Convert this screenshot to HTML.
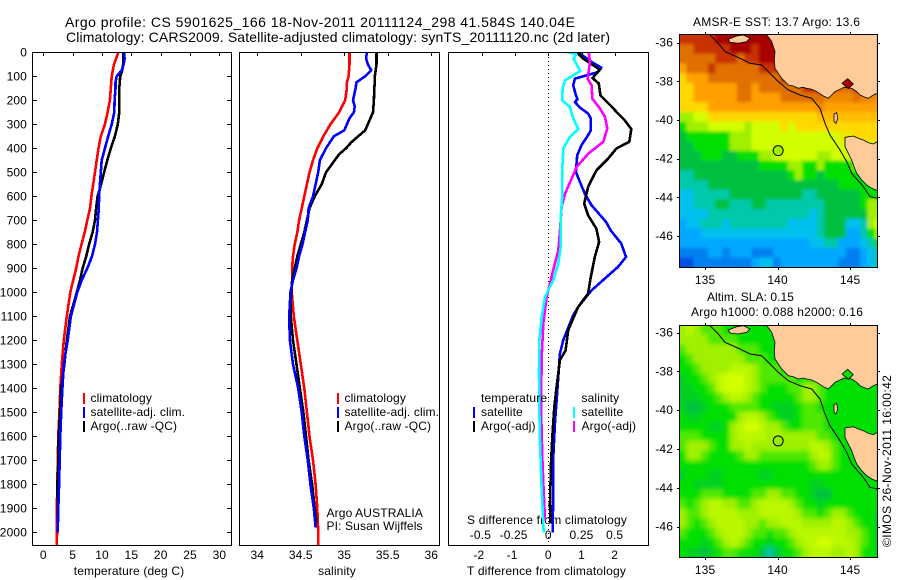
<!DOCTYPE html>
<html>
<head>
<meta charset="utf-8">
<title>Argo profile</title>
<style>
html,body{margin:0;padding:0;background:#fff;}
svg{display:block;}
text{font-family:"Liberation Sans",sans-serif;font-size:12px;fill:#000;letter-spacing:0.13px;}
.t14{font-size:14px;letter-spacing:0;}
</style>
</head>
<body>
<svg id="chart" xmlns="http://www.w3.org/2000/svg" width="900" height="580" viewBox="0 0 900 580">
  <defs>
    <clipPath id="clip-p1"><rect x="32" y="52" width="200" height="494"/></clipPath>
    <clipPath id="clip-p2"><rect x="239" y="52" width="201" height="494"/></clipPath>
    <clipPath id="clip-p3"><rect x="448" y="52" width="201" height="494"/></clipPath>
    <clipPath id="clip-m1"><rect x="679" y="34" width="199" height="234"/></clipPath>
    <clipPath id="clip-m2"><rect x="679" y="325" width="199" height="233"/></clipPath>
    <filter id="soft-sst" filterUnits="userSpaceOnUse" x="650" y="10" width="250" height="280"><feGaussianBlur stdDeviation="1.5"/></filter>
    <filter id="soft-sla" filterUnits="userSpaceOnUse" x="650" y="300" width="250" height="280"><feGaussianBlur stdDeviation="2.5"/></filter>
  </defs>
  <rect x="0" y="0" width="900" height="580" fill="#fff"/>
  <text class="t14" x="65" y="27" textLength="510" lengthAdjust="spacing">Argo profile: CS 5901625_166 18-Nov-2011 20111124_298 41.584S 140.04E</text>
  <text class="t14" x="66" y="42" textLength="544" lengthAdjust="spacing">Climatology: CARS2009. Satellite-adjusted climatology: synTS_20111120.nc (2d later)</text>

  <text x="129" y="575" text-anchor="middle">temperature (deg C)</text>
  <text x="337" y="575" text-anchor="middle">salinity</text>
  <text x="467" y="575" textLength="159" lengthAdjust="spacing">T difference from climatology</text>
  <text x="467" y="524" textLength="160" lengthAdjust="spacing">S difference from climatology</text>

  <text x="693" y="26" textLength="167" lengthAdjust="spacing">AMSR-E SST: 13.7 Argo: 13.6</text>
  <text x="707" y="301" textLength="87" lengthAdjust="spacing">Altim. SLA: 0.15</text>
  <text x="691" y="316" textLength="172" lengthAdjust="spacing">Argo h1000: 0.088 h2000: 0.16</text>
  <text transform="translate(891,547) rotate(-90)" textLength="172" lengthAdjust="spacing">©IMOS 26-Nov-2011 16:00:42</text>

  <g id="maps"></g>
  <g id="panels"></g>

  <g>
    <line x1="84" x2="84" y1="393" y2="404" stroke="#f00" stroke-width="2" shape-rendering="crispEdges"/>
    <line x1="84" x2="84" y1="407" y2="418" stroke="#00f" stroke-width="2" shape-rendering="crispEdges"/>
    <line x1="84" x2="84" y1="421" y2="432" stroke="#000" stroke-width="2" shape-rendering="crispEdges"/>
    <text x="90.5" y="402">climatology</text>
    <text x="90.5" y="416">satellite-adj. clim.</text>
    <text x="90.5" y="430">Argo(..raw -QC)</text>
  </g>
  <g>
    <line x1="338" x2="338" y1="393" y2="404" stroke="#f00" stroke-width="2" shape-rendering="crispEdges"/>
    <line x1="338" x2="338" y1="407" y2="418" stroke="#00f" stroke-width="2" shape-rendering="crispEdges"/>
    <line x1="338" x2="338" y1="421" y2="432" stroke="#000" stroke-width="2" shape-rendering="crispEdges"/>
    <text x="344.5" y="402">climatology</text>
    <text x="344.5" y="416">satellite-adj. clim.</text>
    <text x="344.5" y="430">Argo(..raw -QC)</text>
    <text x="326.5" y="517">Argo AUSTRALIA</text>
    <text x="326.5" y="530">PI: Susan Wijffels</text>
  </g>
  <g>
    <text x="481" y="402">temperature</text>
    <text x="581.5" y="402">salinity</text>
    <line x1="474" x2="474" y1="407" y2="418" stroke="#00f" stroke-width="2" shape-rendering="crispEdges"/>
    <line x1="474" x2="474" y1="421" y2="432" stroke="#000" stroke-width="2" shape-rendering="crispEdges"/>
    <line x1="574" x2="574" y1="407" y2="418" stroke="#0ff" stroke-width="2" shape-rendering="crispEdges"/>
    <line x1="574" x2="574" y1="421" y2="432" stroke="#f0f" stroke-width="2" shape-rendering="crispEdges"/>
    <text x="481" y="416">satellite</text>
    <text x="481" y="430">Argo(-adj)</text>
    <text x="581.5" y="416">satellite</text>
    <text x="581.5" y="430">Argo(-adj)</text>
  </g>
</svg>
<script>
// ---------- chart data ----------
const depthTicks = [0,100,200,300,400,500,600,700,800,900,1000,1100,1200,1300,1400,1500,1600,1700,1800,1900,2000];
const tempTicks = [0,5,10,15,20,25,30];
const salTicks = [34,34.5,35,35.5,36];
const salTickLabels = ['34','34.5','35','35.5','36'];
const tDiffTicks = [-2,-1,0,1,2];
const sDiffTicks = [-0.5,-0.25,0,0.25,0.5];
const lonTicks = [135,140,145];
const latTicks = [-36,-38,-40,-42,-44,-46];

const tempClimDepth = [0,50,100,150,200,250,300,350,400,450,500,550,600,650,700,750,800,850,900,950,1000,1100,1200,1300,1400,1500,1600,1700,1800,1900,2000,2055];
const tempClim = [12.8,12.05,11.65,11.5,11.35,10.95,10.5,9.8,9.4,9.1,8.8,8.5,8.2,7.95,7.5,7.05,6.5,6.0,5.6,5.1,4.6,4.0,3.5,3.15,2.9,2.75,2.55,2.45,2.4,2.3,2.33,2.3];
const tempSatDepth = [0,25,50,75,100,125,150,200,250,300,350,400,450,500,550,600,650,700,750,800,850,900,950,1000,1050,1100,1200,1300,1400,1500,1600,1700,1800,1900,2000];
const tempSat = [13.75,13.85,13.7,13.35,12.5,12.3,12.3,12.15,12.1,11.65,11.05,10.5,9.95,9.8,9.65,9.5,9.45,9.3,9.15,8.8,8.3,7.5,6.55,5.8,5.25,4.7,4.15,3.5,3.25,3.05,2.9,2.8,2.7,2.55,2.45];
const tempArgoDepth = [0,50,75,100,150,200,250,300,350,400,450,500,550,600,650,700,750,800,850,900,950,1000,1100,1200,1300,1400,1500,1600,1700,1800,1900,2000];
const tempArgo = [13.6,13.6,13.45,13.1,12.95,12.95,12.95,12.7,12.2,11.5,10.9,10.35,9.85,9.25,9,8.8,8.4,7.8,7.3,6.7,6.25,5.7,4.55,4,3.6,3.05,2.85,2.6,2.55,2.4,2.45,2.45];

const salClimDepth = [0,50,100,125,150,200,250,300,350,400,450,500,550,600,650,700,750,800,850,900,950,1000,1100,1200,1300,1400,1500,1600,1700,1800,1900,2000,2055];
const salClim = [35.06,35.06,35.05,35.03,35.03,35.01,34.94,34.84,34.76,34.69,34.64,34.6,34.57,34.54,34.51,34.48,34.46,34.43,34.41,34.4,34.4,34.395,34.42,34.46,34.5,34.54,34.57,34.6,34.64,34.67,34.69,34.7,34.7];
const salSatDepth = [0,25,50,75,100,125,150,200,225,250,275,300,325,350,400,450,500,550,600,650,700,750,800,850,900,950,1000,1050,1100,1200,1300,1400,1500,1600,1700,1800,1900,1980];
const salSat = [35.26,35.25,35.27,35.31,35.24,35.14,35.13,35.1,35.12,35.11,35.06,35.03,35.0,34.88,34.79,34.72,34.7,34.67,34.64,34.59,34.58,34.55,34.52,34.48,34.45,34.41,34.38,34.375,34.365,34.375,34.41,34.47,34.51,34.54,34.58,34.61,34.65,34.67];
const salArgoDepth = [0,50,100,125,150,200,250,275,300,325,350,375,400,425,475,500,550,600,650,700,750,800,850,900,950,1000,1050,1100,1200,1300,1400,1500,1600,1700,1800,1900,1960];
const salArgo = [35.37,35.37,35.35,35.35,35.345,35.34,35.33,35.3,35.27,35.24,35.16,35.08,35.02,34.94,34.84,34.79,34.74,34.66,34.6,34.57,34.54,34.5,34.46,34.43,34.4,34.39,34.385,34.385,34.41,34.45,34.49,34.53,34.56,34.59,34.63,34.66,34.68];

const dTSatDepth = [0,40,64,82,110,137,179,196,207,230,255,276,325,346,387,429,499,589,637,707,742,797,853,894,992,1061,1096,1200,1256,1353,1450,1547,1686,1825,2001];
const dTSat = [0.9,1.3,1.6,1.5,0.8,0.75,0.83,0.88,0.8,0.95,1.2,1.28,1.28,1.2,1.0,0.87,0.83,1.1,1.3,1.74,1.88,2.2,2.34,2.1,1.3,0.9,0.75,0.45,0.35,0.3,0.25,0.2,0.15,0.15,0.13];
const dTArgoDepth = [0,26,47,72,107,130,179,225,255,283,320,373,401,443,492,561,630,679,735,790,853,943,1005,1061,1158,1242,1283,1394,1478,1603,1714,1881,1964];
const dTArgo = [0.87,1.05,1.28,1.55,1.33,1.52,1.57,1.9,2.1,2.3,2.5,2.44,2.05,1.8,1.45,1.2,1.08,1.2,1.45,1.53,1.4,1.27,1.2,0.9,0.6,0.52,0.35,0.25,0.18,0.12,0.08,0.05,0.06];
const dSSatDepth = [0,8,26,78,117,151,200,228,276,320,353,401,492,603,686,811,881,950,1005,1020,1103,1200,1339,1478,1617,1825,2001];
const dSSat = [0.15,0.21,0.19,0.24,0.125,0.108,0.105,0.163,0.188,0.226,0.163,0.113,0.105,0.105,0.093,0.093,0.075,0.038,-0.013,-0.025,-0.05,-0.068,-0.07,-0.068,-0.063,-0.05,-0.035];
const dSArgoDepth = [3,40,110,137,193,235,269,318,373,422,478,526,589,644,742,825,922,992,1020,1131,1269,1478,1686,1853,1950];
const dSArgo = [0.306,0.314,0.296,0.326,0.331,0.389,0.427,0.444,0.414,0.301,0.213,0.176,0.126,0.1,0.088,0.075,0.03,0,-0.013,-0.038,-0.05,-0.055,-0.045,-0.033,-0.025];

// SST map: colour-level per 0.5 degree cell, north to south, west to east
const sstCells = [
[12,12,12,12,12,13,13,13,13,13,13,13,13,13,13,13,13,13,13,13,13,13,13,13,13,13,13,13],
[11,11,12,12,12,12,12,13,13,13,12,13,13,13,13,13,13,13,13,13,13,13,13,13,13,13,13,13],
[11,11,11,11,11,12,12,12,11,12,12,13,13,13,13,13,13,13,13,13,13,13,13,13,13,13,13,13],
[10,11,11,11,12,11,11,11,11,11,11,12,12,12,13,13,13,13,13,13,13,13,13,13,13,13,13,13],
[9,10,10,10,11,11,11,11,11,11,11,11,11,11,12,12,12,13,13,13,12,12,12,12,12,12,12,12],
[9,9,10,10,10,10,10,10,11,11,10,11,11,11,11,11,11,12,12,12,11,11,11,11,12,11,11,11],
[9,9,10,10,10,10,10,10,11,11,10,10,10,10,11,11,11,11,11,11,10.5,10.5,10.5,10.5,11,10.5,10.5,10.5],
[9,9,9,9,10,10,10,10,10,10,10,10,10,10,10,10,10,10,10,10.5,10,10,10,10,10,10,10,10],
[7,7,8,8,9,9,9,9,9,9,9,9,9,9,9,9,9,9,9,9.5,9.5,9.5,9.5,9.5,9.5,9.5,9.5,9.5],
[6,7,7,7,8,8,8,8,8,7,8,8,8,8,9,8,9,9,9,9,9,9,9,9,9,9,9,9],
[5,6,6,6,6,6,6,7,7,7,8,8,8,8,8,8,8,8,8,8,8,8,8.5,8.5,9,9,9,9],
[5,5,6,6,6,6,6,7,7,7,8,8,8,8,8,8,8,8,8,8,8,8,8,8,8,8,8,8],
[5,5,5,6,6,6,5,5,6,6,6,7,7,8,8,8,8,8,8,7,7,8,8,8,8,8,8,8],
[5,5,5,5,5,5,5,5,5,5,5,6,6,6,6,7,7,6,6,7,6,6,6,6,7,7,7,7],
[4,4,5,5,5,5,5,5,5,5,5,5,5,5,5,6,7,6,6,5,6,6,6,6,6,6,6,6],
[4,4,4,4,5,5,5,5,5,5,5,5,5,5,5,5,5,5,5,5,5,5,6,6,6,6,6,6],
[3,3,4,4,4,4,4,5,5,5,5,5,5,5,5,5,5,4,4,5,5,5,5,5,5,6,6,6],
[3,3,4,4,4,5,5,4,4,4,5,5,4,4,4,4,4,4,4,4,5,5,5,5,5,6,7,7],
[3,3,3,3,4,4,4,4,4,4,4,4,4,4,4,4,4,4,3,4,5,5,5,5,5,5,7,7],
[2,3,3,4,4,4,3,4,4,4,4,4,4,4,4,3,3,3,3,4,5,5,5,3,3,4,7,8],
[2,2,2,3,3,3,3,3,3,3,3,3,3,3,3,3,3,3,3,4,5,5,5,2,2,4,6,7],
[2,2,2,2,2,2,2,2,2,2,2,2,2,2,2,2,2,2,3,3,4,4,2,2,2,3,4,6],
[1,1,1,1,2,2,1,2,2,2,1,1,1,2,2,2,2,2,2,2,2,2,2,1,1,2,3,4],
[0,0,1,1,1,1,1,1,1,1,2,3,3,1,2,2,2,2,2,2,2,2,1,1,1,2,3,4]
];
// SLA map: colour-level per 0.5 degree cell, north to south, west to east
const slaCells = [
[7,7.5,7,6.5,6.5,6.5,6,6,6,6,6,6,6,6,5.5,6,6,6,6,6,6,6,6,6,6,6,6,6],
[7,7,7,7,6.5,6.5,6.5,6.5,6,6,6,6,6,6,6,6,6,6,6,6,6,6,6,6,6,6,6,6],
[6.5,7,7,7,7,7,7,7,6.5,6.5,6.5,6,6,6,6,6,6,6,6,6,6,6,6,6,6,6,6,6],
[6,6.5,7,7,7,7,7,7,7,6.5,6.5,6.5,6,6,6,6,6,6,6,6,6,6,6,6,6,6,6,6],
[6,6,6.5,7,7,7,7,7.5,7.5,7.5,7,6.5,6.5,6.5,6,6,6,6,6,6,6,6,6,6,6,6,6,6],
[5.5,6,6,6.5,7,7.5,8,8,8,7.5,7,6.5,6.5,6.5,6.5,6.5,6,6,6,6,6,6,6,6,6,6,6,6],
[5.5,5.5,6,6,6.5,7.5,8,8,8,7.5,7,6.5,6,6,6,6.5,6.5,7,7,6.5,6,6,6,6,6,6,6,6],
[5.5,5.5,5.5,6,6,6.5,7,7.5,7.5,7,6.5,6,6,6,6,6,6.5,7,7,6.5,6,6,6,6,6,6,6,6],
[5.5,5,5,5.5,6,6,6,6.5,6.5,6.5,6.5,6,6,5.5,5.5,5.5,6,6.5,6.5,6,6,6,6,6,6,6,6,6],
[6,5.5,5.5,6,6,6,6,6,7,7.5,7.5,7,6.5,6,5.5,5.5,6,6.5,6.5,6.5,6,6,6,6,6,6,6,6],
[6,6,6,6,5.5,5.5,6,7,7.5,8,8,7.5,7,7,6.5,6,6,6.5,6.5,6.5,6,6,6,6,6,6,6,6],
[6.5,6.5,6.5,6,6,6,6,7,7.5,7.5,7.5,7.5,7,7.5,7,7,7,7,7,6.5,6.5,6,6,6,6,6,6,6],
[6.5,7,7,7,6.5,6,6,7,7,7.5,7,7,7,7,7,7,7,7,7.5,7.5,7,6.5,6,6,6,6,6,6],
[6,7,7,6.5,6,6,6,6,6.5,7,7,6.5,6.5,6.5,6.5,6.5,6.5,6.5,7,7.5,7.5,6.5,6,6,6,6,6,6],
[6,6,6,6,6,6,6,6,6,6,6,6,6,6,6,6,6,6,6.5,7,7,6.5,6,6,6,6,6,6],
[5.5,6,6,6,5.5,5.5,6,6,6,6,6,5.5,5.5,6,6,6,6,6,6,6,6,6,6,6,6,6,6,6],
[6,6,5.5,5.5,5.5,5.5,6,6,6,6,6,6,6,6,6,6,6,6,5.5,5.5,6,6,6,6,6,6,6,6],
[6,6,6,6.5,6.5,6.5,6,6,6,6,6.5,6.5,7,7,6.5,6.5,6,6,5.5,5,5,6,6,6,6,6,6,6],
[6.5,6,6.5,7,7.5,7.5,7,7,6.5,6.5,7,7.5,7.5,7.5,7.5,7,6.5,6,6,5.5,6,6,6,6,6,6,6,6],
[7,6.5,6.5,7,7.5,7.5,7.5,7.5,7,7,7,7.5,7.5,7.5,7.5,7.5,7,6.5,6.5,6,6.5,7,7,6.5,6,6,6,5.5],
[7,6.5,6,6.5,7,7.5,7.5,7.5,7.5,7,7,6.5,7,7,7.5,7.5,7.5,7,7,7,7,7.5,7.5,7,6.5,6,6,5.5],
[6.5,6,6,6,6.5,7,7.5,7.5,7.5,7,6.5,6.5,6,6.5,6.5,7,7.5,7.5,7.5,7.5,7.5,7.5,7.5,7,7,6.5,6,5.5],
[6,6,6,5.5,6,6.5,7,7.5,7,6.5,6,6,5.5,6,6,6.5,7,7.5,7.5,8,8,7.5,7.5,7.5,7,6.5,6,5.5],
[6,5.5,5.5,5,5.5,6,6.5,6.5,6,6,6,5,4,5,6,6,6.5,7,7.5,7.5,7.5,7,7,7.5,7,6,6,5.5]
];
const profileLon = 140.04;
const profileLat = -41.584;

// ---------- colour ramp and helpers ----------
const ramp = [[0,80,224],[0,128,240],[0,168,255],[0,192,240],[0,200,170],[0,192,64],[0,224,0],[160,240,0],[210,255,0],[255,216,0],[255,160,0],[224,112,0],[200,48,0],[168,0,0]];
function rampColor(v){
  const i = Math.max(0, Math.min(ramp.length-2, Math.floor(v)));
  const f = Math.max(0, Math.min(1, v-i));
  const c = ramp[i].map((a,k)=>Math.round(a+(ramp[i+1][k]-a)*f));
  return 'rgb('+c.join(',')+')';
}
const NS = 'http://www.w3.org/2000/svg';
function mk(tag, attrs, parent){
  const el = document.createElementNS(NS, tag);
  for (const k in attrs) el.setAttribute(k, attrs[k]);
  parent.appendChild(el);
  return el;
}
const panelsRoot = document.getElementById('panels');
const mapsRoot = document.getElementById('maps');

// ---------- axis functions ----------
const yDepth = d => 52.3 + 0.24*d;
const xTemp = t => 43.3 + 5.87*t;
const xSal = s => 257.3 + 87*(s-34);
const xDT = t => 548.3 + 33.2*t;
const xDS = s => 548.3 + 132.8*s;
const xLon = lon => 777.6 + 14.5*(lon-140);
const yLat1 = lat => 42.7 + 19.33*(-36-lat);
const yLat2 = lat => 332.6 + 19.4*(-36-lat);

function drawFrame(x0, x1, name){
  const r = mk('rect', {x:x0, y:52.5, width:x1-x0, height:493, fill:'none', stroke:'#000', 'stroke-width':1, 'shape-rendering':'crispEdges'}, panelsRoot);
  
  
}
function tick(x1, y1, x2, y2, parent, name){
  const l = mk('line', {x1:x1, y1:y1, x2:x2, y2:y2, stroke:'#000', 'stroke-width':1, 'shape-rendering':'crispEdges'}, parent);
  
  
}
function label(x, y, str, anchor, parent, name){
  const t = mk('text', {x:x, y:y, 'text-anchor':anchor}, parent);
  t.textContent = str;
  
  
}
function series(depths, vals, xf, color, clip, name){
  const pts = depths.map((d,i)=>xf(vals[i]).toFixed(1)+','+yDepth(d).toFixed(1)).join(' ');
  const p = mk('polyline', {points:pts, fill:'none', stroke:color, 'stroke-width':2.6, 'clip-path':'url(#'+clip+')', 'shape-rendering':'crispEdges', 'stroke-linejoin':'round'}, panelsRoot);
  
  
}

// ---------- profile panels ----------
series(tempClimDepth, tempClim, xTemp, '#f00', 'clip-p1', 'temperature-climatology-line');
series(tempArgoDepth, tempArgo, xTemp, '#000', 'clip-p1', 'temperature-argo-line');
series(tempSatDepth, tempSat, xTemp, '#00f', 'clip-p1', 'temperature-satellite-line');
series(salClimDepth, salClim, xSal, '#f00', 'clip-p2', 'salinity-climatology-line');
series(salArgoDepth, salArgo, xSal, '#000', 'clip-p2', 'salinity-argo-line');
series(salSatDepth, salSat, xSal, '#00f', 'clip-p2', 'salinity-satellite-line');

const zeroLine = mk('line', {x1:548.5, x2:548.5, y1:53, y2:545, stroke:'#000', 'stroke-width':1, 'stroke-dasharray':'1 3', 'shape-rendering':'crispEdges'}, panelsRoot);



series(dTSatDepth, dTSat, xDT, '#00f', 'clip-p3', 'temperature-difference-satellite-line');
series(dTArgoDepth, dTArgo, xDT, '#000', 'clip-p3', 'temperature-difference-argo-line');
series(dSArgoDepth, dSArgo, xDS, '#f0f', 'clip-p3', 'salinity-difference-argo-line');
series(dSSatDepth, dSSat, xDS, '#0ff', 'clip-p3', 'salinity-difference-satellite-line');

drawFrame(32.5, 231.5, 'temperature-panel-frame');
drawFrame(239.5, 439.5, 'salinity-panel-frame');
drawFrame(448.5, 648.5, 'difference-panel-frame');

depthTicks.forEach(d => {
  const y = Math.round(yDepth(d)) + 0.5;
  tick(32.5, y, 37, y, panelsRoot, 'depth-tick-left');
  tick(227, y, 231.5, y, panelsRoot, 'depth-tick-right');
  label(27, yDepth(d)+4, String(d), 'end', panelsRoot, 'depth-tick-label');
});
tempTicks.forEach(t => {
  const x = Math.round(xTemp(t)) + 0.5;
  tick(x, 52.5, x, 56, panelsRoot, 'temperature-tick');
  label(xTemp(t), 559, String(t), 'middle', panelsRoot, 'temperature-tick-label');
});
salTicks.forEach((s,i) => {
  const x = Math.round(xSal(s)) + 0.5;
  tick(x, 52.5, x, 56, panelsRoot, 'salinity-tick');
  label(xSal(s), 559, salTickLabels[i], 'middle', panelsRoot, 'salinity-tick-label');
});
tDiffTicks.forEach(t => {
  const x = Math.round(xDT(t)) + 0.5;
  tick(x, 52.5, x, 56, panelsRoot, 't-difference-tick');
  label(xDT(t) - (t<0?3:0), 559, String(t), 'middle', panelsRoot, 't-difference-tick-label');
});
sDiffTicks.forEach(s => {
  label(xDS(s) - (s<0?1.5:0), 539, String(s), 'middle', panelsRoot, 's-difference-tick-label');
});

// ---------- maps (outline points measured relative to map corner) ----------
const coastOutline = [[318,73],[328,85],[335,95],[340,110],[345,125],[343,150],[345,175],[355,190],[365,205],[375,215],[385,225],[400,228],[415,235],[428,232],[440,235],[455,238],[470,245],[490,258],[505,265],[515,255],[525,245],[540,238],[552,232],[575,235],[590,245],[600,255],[615,262],[625,265],[640,255],[652,250],[652,73]];
const tasOutline = [[555,382],[580,378],[595,385],[610,390],[625,398],[640,402],[652,395],[652,542],[635,535],[620,525],[605,510],[590,490],[582,470],[575,450],[565,430],[555,410]];
const kangarooOutline = [[205,88],[230,78],[250,75],[270,85],[260,95],[235,100],[210,97]];
const kingOutline = [[522,312],[530,308],[533,325],[528,340],[522,335]];
const inletOutline = [[546,220],[563,206],[580,222],[565,236]];
const shelfContour = [[148,73],[175,100],[195,125],[240,145],[270,160],[305,165],[330,190],[355,215],[385,240],[420,255],[455,265],[480,295],[495,340],[510,375],[540,420],[560,455],[575,490],[610,530],[630,560],[652,565]];

function outline(pts, mx, my){
  return pts.map(p => (mx+(p[0]-57)/3).toFixed(1)+','+(my+(p[1]-73)/3).toFixed(1)).join(' ');
}
function drawMap(cells, top, bottom, clip, filterId, yLat, inletFill, dotFill, prefix, labelY){
  const g = mk('g', {'clip-path':'url(#'+clip+')'}, mapsRoot);
  
  
  const field = mk('g', {filter:'url(#'+filterId+')'}, g);
  
  
  const left = 679, cw = 7.25, ch = (bottom-top)/cells.length, pad = 12;
  cells.forEach((row, i) => {
    row.forEach((v, j) => {
      const x0 = left + j*cw - (j===0 ? pad : 0);
      const w = cw + 0.5 + (j===0 ? pad : 0) + (j===row.length-1 ? pad : 0);
      const y0 = top + i*ch - (i===0 ? pad : 0);
      const h = ch + 0.5 + (i===0 ? pad : 0) + (i===cells.length-1 ? pad : 0);
      const c = mk('rect', {x:x0.toFixed(2), y:y0.toFixed(2), width:w, height:h, fill:rampColor(v)}, field);
      
      
    });
  });
  [[coastOutline,'mainland'],[tasOutline,'tasmania'],[kangarooOutline,'kangaroo-island'],[kingOutline,'king-island']].forEach(item => {
    const p = mk('polygon', {points:outline(item[0], left, top), fill:'#ffcc99', stroke:'#000', 'stroke-width':0.8}, g);
    
    
  });
  const inlet = mk('polygon', {points:outline(inletOutline, left, top), fill:inletFill, stroke:'#000', 'stroke-width':0.8}, g);
  
  
  const contour = mk('polyline', {points:outline(shelfContour, left, top), fill:'none', stroke:'#000', 'stroke-width':1}, g);
  
  
  const dot = mk('circle', {cx:xLon(profileLon), cy:yLat(profileLat), r:5, fill:dotFill, stroke:'#000', 'stroke-width':1}, g);
  
  

  const fr = mk('rect', {x:left+0.5, y:Math.round(top)+0.5, width:198, height:Math.round(bottom)-Math.round(top), fill:'none', stroke:'#000', 'stroke-width':1, 'shape-rendering':'crispEdges'}, mapsRoot);
  
  

  lonTicks.forEach(lon => {
    const x = Math.round(xLon(lon)) + 0.5;
    tick(x, Math.round(top)-2, x, Math.round(top), mapsRoot, prefix+'-lon-tick');
    tick(x, Math.round(bottom)+1, x, Math.round(bottom)+3, mapsRoot, prefix+'-lon-tick');
    label(xLon(lon), labelY, String(lon), 'middle', mapsRoot, prefix+'-lon-label');
  });
  latTicks.forEach(lat => {
    const y = Math.round(yLat(lat)) + 0.5;
    tick(677, y, 679, y, mapsRoot, prefix+'-lat-tick');
    tick(878, y, 880, y, mapsRoot, prefix+'-lat-tick');
    label(673, yLat(lat)+4, String(lat), 'end', mapsRoot, prefix+'-lat-label');
  });
}
drawMap(sstCells, 34.3, 267.3, 'clip-m1', 'soft-sst', yLat1, '#a80000', '#a0f000', 'sst', 284);
drawMap(slaCells, 325, 557, 'clip-m2', 'soft-sla', yLat2, '#00e000', '#90f000', 'sla', 574);
</script>
</body>
</html>
